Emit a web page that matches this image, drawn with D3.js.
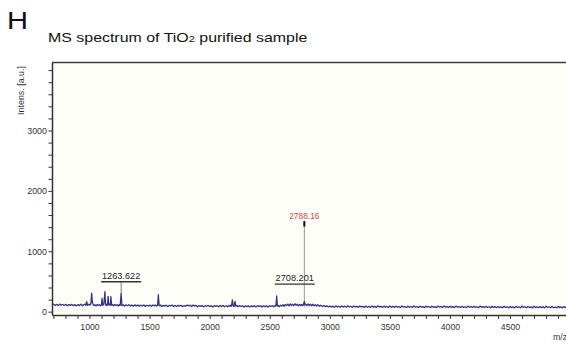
<!DOCTYPE html>
<html><head><meta charset="utf-8">
<script src="https://cdn.jsdelivr.net/npm/d3@7"></script>
<style>
html,body{margin:0;padding:0;background:#fff;}
svg{display:block;font-family:"Liberation Sans",Arial,sans-serif;}
</style></head>
<body>
<svg id="chart" width="566" height="346"></svg>
<script>
// ---- data ----
const panelLetter = "H";
const titleMain = "MS spectrum of TiO";
const titleSub = "2";
const titleEnd = " purified sample";
const yLabel = "Intens. [a.u.]";
const xLabel = "m/z";
const xTickValues = [1000, 1500, 2000, 2500, 3000, 3500, 4000, 4500];
const yTickValues = [0, 1000, 2000, 3000];

// spectrum trace: [m/z, intensity]
const spectrum = [
[690,112],[702,124],[715,104],[728,122],[740,100],[752,126],[765,108],[778,119],[790,103],[803,122],[815,99],[828,117],
[840,104],[853,121],[865,100],[878,118],[890,95],[903,116],[915,101],[928,124],[940,98],[953,117],[965,126],[970,104],
[977,165],[984,106],[995,124],[1005,108],[1012,142],[1018,305],[1024,150],[1030,122],[1038,98],[1045,114],[1055,96],[1065,118],
[1075,101],[1085,116],[1093,97],[1100,112],[1105,220],[1110,104],[1120,128],[1128,330],[1134,110],[1140,124],[1145,100],[1150,118],
[1155,255],[1160,112],[1168,126],[1173,104],[1178,250],[1184,106],[1192,118],[1200,96],[1210,119],[1220,103],[1230,116],[1240,94],
[1248,115],[1256,104],[1263,300],[1270,100],[1280,114],[1290,92],[1302,113],[1315,98],[1328,115],[1340,94],[1352,110],[1365,90],
[1378,112],[1390,96],[1403,111],[1415,89],[1428,108],[1440,95],[1453,111],[1465,87],[1478,106],[1490,94],[1503,109],[1515,88],
[1528,110],[1540,96],[1550,112],[1560,92],[1567,104],[1573,280],[1580,98],[1590,110],[1600,86],[1613,104],[1625,92],[1638,108],
[1650,84],[1663,103],[1675,95],[1688,109],[1700,87],[1713,102],[1725,85],[1738,104],[1750,92],[1763,106],[1775,83],[1788,101],
[1800,90],[1813,112],[1825,95],[1838,108],[1850,86],[1863,110],[1875,92],[1888,104],[1900,82],[1913,101],[1925,88],[1938,103],
[1950,80],[1963,99],[1975,90],[1988,104],[2000,84],[2013,98],[2025,79],[2038,100],[2050,87],[2063,99],[2075,80],[2088,102],
[2100,88],[2113,100],[2125,82],[2138,98],[2150,80],[2160,104],[2170,88],[2176,108],[2182,90],[2189,195],[2196,96],[2204,86],
[2211,170],[2218,92],[2226,104],[2235,82],[2248,100],[2260,86],[2273,98],[2285,78],[2298,97],[2310,84],[2323,96],[2335,77],
[2348,98],[2360,84],[2373,97],[2385,79],[2398,100],[2410,86],[2423,99],[2435,77],[2448,96],[2460,84],[2473,98],[2485,76],
[2498,99],[2510,85],[2523,100],[2535,80],[2545,102],[2552,92],[2558,260],[2564,94],[2572,104],[2580,82],[2590,108],[2600,92],
[2610,116],[2620,88],[2630,120],[2640,100],[2650,126],[2660,96],[2670,130],[2680,104],[2690,124],[2700,98],[2710,132],[2720,106],
[2730,124],[2740,94],[2750,120],[2760,102],[2768,122],[2775,98],[2781,116],[2788,172],[2794,112],[2800,126],[2810,100],[2820,128],
[2830,102],[2840,122],[2850,98],[2860,124],[2870,96],[2880,116],[2890,94],[2900,114],[2913,90],[2925,106],[2938,86],[2950,102],
[2963,84],[2975,98],[2988,80],[3000,95],[3013,76],[3025,92],[3038,74],[3050,96],[3063,78],[3075,90],[3088,72],[3100,93],
[3113,77],[3125,91],[3138,74],[3150,98],[3163,78],[3175,90],[3188,72],[3200,94],[3213,76],[3225,89],[3238,71],[3250,95],
[3263,77],[3275,88],[3288,72],[3300,92],[3313,74],[3325,87],[3338,70],[3350,94],[3363,75],[3375,88],[3388,72],[3400,97],
[3413,76],[3425,89],[3438,71],[3450,92],[3463,74],[3475,86],[3488,69],[3500,93],[3513,75],[3525,88],[3538,70],[3550,92],
[3563,73],[3575,85],[3588,68],[3600,95],[3613,74],[3625,87],[3638,70],[3650,91],[3663,72],[3675,85],[3688,69],[3700,94],
[3713,75],[3725,86],[3738,69],[3750,91],[3763,73],[3775,84],[3788,67],[3800,92],[3813,74],[3825,86],[3838,68],[3850,90],
[3863,72],[3875,84],[3888,67],[3900,93],[3913,74],[3925,87],[3938,70],[3950,96],[3963,74],[3975,85],[3988,68],[4000,91],
[4013,72],[4025,84],[4038,67],[4050,92],[4063,73],[4075,85],[4088,68],[4100,89],[4113,70],[4125,82],[4138,66],[4150,93],
[4163,73],[4175,85],[4188,68],[4200,90],[4213,70],[4225,82],[4238,66],[4250,92],[4263,72],[4275,84],[4288,67],[4300,88],
[4313,69],[4325,81],[4338,65],[4350,90],[4363,71],[4375,83],[4388,66],[4400,87],[4413,68],[4425,80],[4438,64],[4450,89],
[4463,70],[4475,82],[4488,65],[4500,86],[4513,67],[4525,79],[4538,64],[4550,88],[4563,69],[4575,81],[4588,65],[4600,93],
[4613,70],[4625,82],[4638,65],[4650,87],[4663,68],[4675,79],[4688,63],[4700,89],[4713,68],[4725,80],[4738,64],[4750,86],
[4763,67],[4775,79],[4788,63],[4800,90],[4813,69],[4825,81],[4838,64],[4850,85],[4863,66],[4875,78],[4888,62],[4900,88],
[4913,68],[4925,80],[4938,63],[4950,86],[4963,67],[4975,78]
];

// main peak (drawn as a thin stick)
const mainPeakMz = 2788.16;
const mainPeakIntensity = 1500;
const mainPeakLabel = "2788.16";

// labelled peaks
const peakLabelsMz = [1263.622, 2708.201];
const peakLabelsText = ["1263.622", "2708.201"];

// ---- drawing ----
const svg = d3.select("#chart");
const pL = 52, pT = 62.5, pB = 315, pR = 566;
const FONT = '"Liberation Sans",Arial,sans-serif';

const x = d3.scaleLinear().domain([688, 4966]).range([pL, pR]);
const y = d3.scaleLinear().domain([-55, 4126]).range([pB, pT]);

// plot background
svg.append("rect").attr("x", pL).attr("y", pT)
  .attr("width", pR - pL).attr("height", pB - pT)
  .attr("fill", "#fffffa");

// panel letter (horizontally stretched, like the reference)
svg.append("text").attr("transform", "translate(7,29) scale(1.24,1)")
  .attr("font-size", 23.5).attr("fill", "#111").text(panelLetter);

// title, stretched to the reference width
const tg = svg.append("g");
const t = tg.append("text").attr("x", 0).attr("y", 0)
  .attr("font-size", 12).attr("fill", "#111");
t.append("tspan").text(titleMain);
t.append("tspan").attr("font-size", 8.4).text(titleSub);
t.append("tspan").text(titleEnd);
const tw = t.node().getBBox().width;
tg.attr("transform", `translate(48,41.7) scale(${260 / tw},1)`);

// frame top line
svg.append("line").attr("x1", pL).attr("x2", pR)
  .attr("y1", pT).attr("y2", pT)
  .attr("stroke", "#3a3a3a").attr("stroke-width", 1.6);

// x axis
const xMinor = d3.range(700, 4966, 100);
const xAxis = d3.axisBottom(x).tickValues(xMinor).tickSize(4).tickSizeOuter(0)
  .tickFormat(d => xTickValues.includes(d) ? d : "");
const gx = svg.append("g").attr("transform", `translate(0,${pB})`).call(xAxis);
gx.select(".domain").attr("stroke", "#333").attr("stroke-width", 1.5);
gx.selectAll(".tick line").attr("stroke", "#333").attr("stroke-width", 1);
gx.selectAll(".tick text").attr("font-size", 8.7).attr("fill", "#333")
  .attr("font-family", FONT).attr("dy", null).attr("y", 15);

// y axis
const yMinor = d3.range(0, 4001, 200);
const yAxis = d3.axisLeft(y).tickValues(yMinor).tickSize(3.5).tickSizeOuter(0)
  .tickFormat(d => yTickValues.includes(d) ? d : "");
const gy = svg.append("g").attr("transform", `translate(${pL},0)`).call(yAxis);
gy.select(".domain").attr("stroke", "#333").attr("stroke-width", 1.5);
gy.selectAll(".tick line").attr("stroke", "#333").attr("stroke-width", 1);
gy.selectAll(".tick text").attr("font-size", 8.9).attr("fill", "#333")
  .attr("font-family", FONT).attr("x", -5);

// axis labels
svg.append("text").attr("transform", `translate(23.5,90.5) rotate(-90)`)
  .attr("text-anchor", "middle").attr("font-size", 8.9).attr("fill", "#333").text(yLabel);
svg.append("text").attr("x", 553).attr("y", 340)
  .attr("font-size", 8.7).attr("fill", "#333").text(xLabel);

// main peak stick
svg.append("line").attr("x1", x(mainPeakMz)).attr("x2", x(mainPeakMz))
  .attr("y1", y(80)).attr("y2", y(mainPeakIntensity))
  .attr("stroke", "#8a8a8a").attr("stroke-width", 0.9);
svg.append("line").attr("x1", x(mainPeakMz)).attr("x2", x(mainPeakMz))
  .attr("y1", y(mainPeakIntensity - 90)).attr("y2", y(mainPeakIntensity))
  .attr("stroke", "#111").attr("stroke-width", 2);
svg.append("text").attr("x", x(mainPeakMz)).attr("y", y(mainPeakIntensity) - 1.8)
  .attr("text-anchor", "middle").attr("font-size", 8.4).attr("fill", "#e0403c").text(mainPeakLabel);

// spectrum line
const line = d3.line().x(d => x(d[0])).y(d => y(d[1]));
svg.append("path").datum(spectrum).attr("d", line)
  .attr("fill", "none").attr("stroke", "#34348c").attr("stroke-width", 1.3)
  .attr("stroke-linejoin", "round");

// peak labels
const labelLevel = 490;
peakLabelsMz.forEach((mz, i) => {
  const cx = x(mz);
  const ly = y(labelLevel) - 0.3 + i * 2.3;
  svg.append("line").attr("x1", cx - 20).attr("x2", cx + 20)
    .attr("y1", ly).attr("y2", ly).attr("stroke", "#333").attr("stroke-width", 1.4);
  if (i === 0) {
    svg.append("line").attr("x1", cx).attr("x2", cx)
      .attr("y1", ly).attr("y2", y(290)).attr("stroke", "#555").attr("stroke-width", 0.8);
  }
  svg.append("text").attr("x", cx).attr("y", ly - 3.2)
    .attr("text-anchor", "middle").attr("font-size", 9.2).attr("fill", "#222").text(peakLabelsText[i]);
});
</script>
</body></html>
